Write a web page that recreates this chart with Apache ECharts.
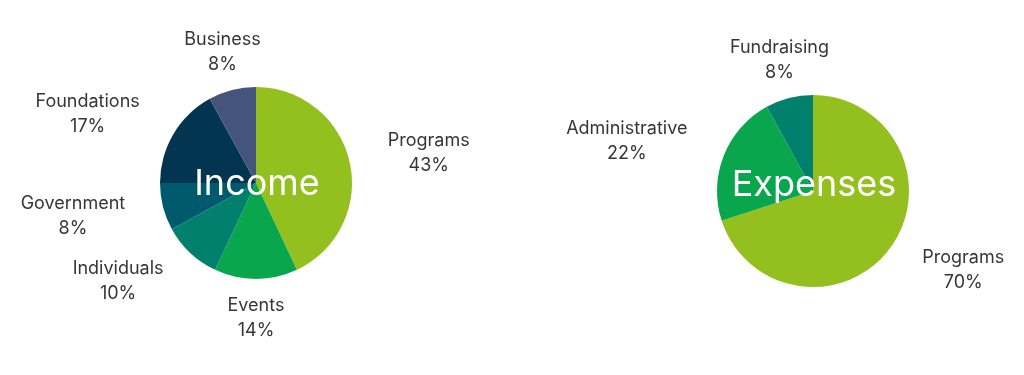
<!DOCTYPE html>
<html>
<head>
<meta charset="utf-8">
<script src="https://cdn.jsdelivr.net/npm/echarts@6/dist/echarts.min.js"></script>
<style>html,body{margin:0;padding:0;background:#fff}#c{width:1024px;height:375px}</style>
</head>
<body>
<div id="c"></div>
<script>
const incomeCategories = ['Programs', 'Events', 'Individuals', 'Government', 'Foundations', 'Business'];
const incomeValues = [43, 14, 10, 8, 17, 8];
const incomeColors = ['#93C01F', '#0AA64E', '#02806E', '#005A6E', '#033550', '#44547A'];

const expenseCategories = ['Programs', 'Administrative', 'Fundraising'];
const expenseValues = [70, 22, 8];
const expenseColors = ['#93C01F', '#0AA64E', '#02806E'];

const FONT = 'Inter, "Open Sans", sans-serif';
const CENTERS = [[256, 183], [813, 191]];
const RADIUS = 96;
const LABEL_GAP = 39;

function midAngles(values) {
  const total = values.reduce((a, b) => a + b, 0);
  let acc = 0;
  return values.map(v => {
    const mid = (acc + v / 2) / total * Math.PI * 2;
    acc += v;
    return mid;
  });
}
const anglesBySeries = [midAngles(incomeValues), midAngles(expenseValues)];

function makeSeries(idx, name, cats, vals, colors) {
  const center = CENTERS[idx];
  const angles = anglesBySeries[idx];
  return {
    type: 'pie',
    name: name,
    center: center,
    radius: RADIUS,
    startAngle: 90,
    clockwise: true,
    avoidLabelOverlap: false,
    silent: true,
    data: cats.map((c, i) => ({ name: c, value: vals[i], itemStyle: { color: colors[i] } })),
    label: {
      show: true,
      position: 'outside',
      formatter: '{t|{b}}\n{t|{c}%}',
      distanceToLabelLine: 0,
      rich: {
        t: { fontFamily: FONT, fontSize: 18, lineHeight: 25, color: '#363636', align: 'center' }
      }
    },
    labelLine: { show: false, length: LABEL_GAP, length2: 0 },
    labelLayout: function (p) {
      const s = Math.sin(angles[p.dataIndex]);
      if (Math.abs(s) < 0.5) {
        const ax = center[0] + (RADIUS + LABEL_GAP) * s;
        const r = p.labelRect;
        return { dx: ax - (r.x + r.width / 2) };
      }
      return {};
    }
  };
}

const chart = echarts.init(document.getElementById('c'));
chart.setOption({
  animation: false,
  series: [
    makeSeries(0, 'Income', incomeCategories, incomeValues, incomeColors),
    makeSeries(1, 'Expenses', expenseCategories, expenseValues, expenseColors)
  ],
  graphic: [
    { type: 'text', x: 257, y: 184, style: { text: 'Income', fill: '#ffffff', font: '400 36px ' + FONT, align: 'center', verticalAlign: 'middle' }, z: 100 },
    { type: 'text', x: 814, y: 185, style: { text: 'Expenses', fill: '#ffffff', font: '400 36px ' + FONT, align: 'center', verticalAlign: 'middle' }, z: 100 }
  ]
});
</script>
</body>
</html>
